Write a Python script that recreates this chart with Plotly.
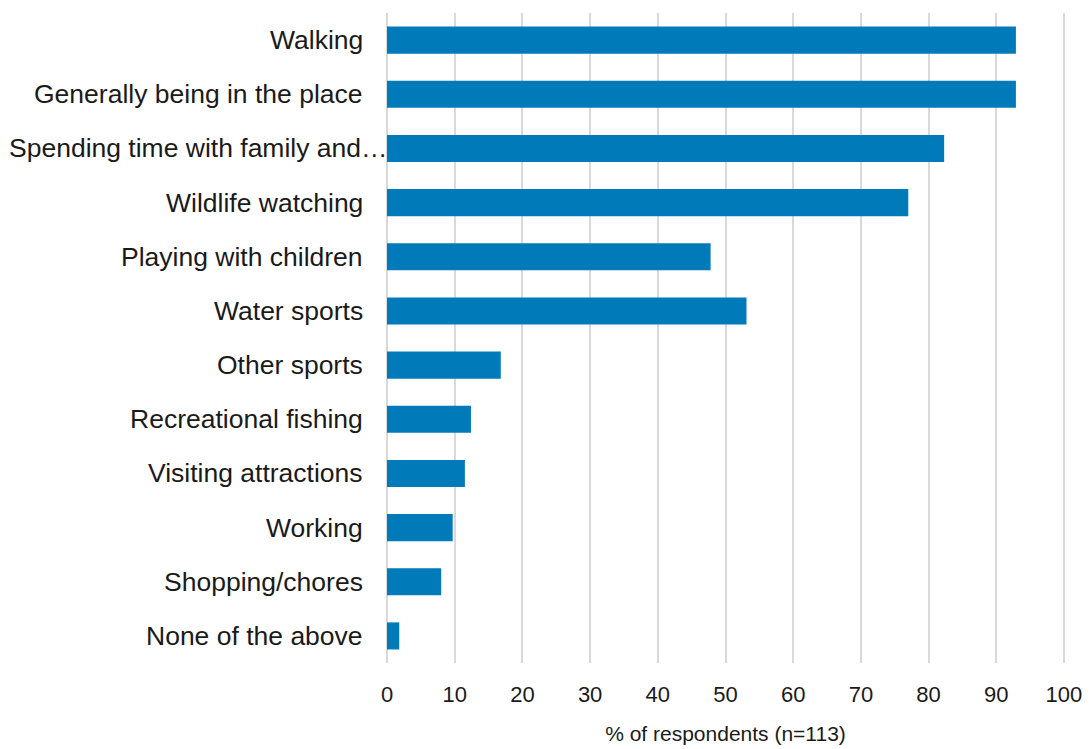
import plotly.graph_objects as go

categories = ["Walking", "Generally being in the place", "Spending time with family and…",
              "Wildlife watching", "Playing with children", "Water sports", "Other sports",
              "Recreational fishing", "Visiting attractions", "Working", "Shopping/chores",
              "None of the above"]
values = [92.9, 92.9, 82.3, 77.0, 47.8, 53.1, 16.8, 12.4, 11.5, 9.7, 8.0, 1.8]
x_ticks = [0, 10, 20, 30, 40, 50, 60, 70, 80, 90, 100]

BAR = "#007ab8"
GRID = "#d9d9d9"
TXT = "#1a1a1a"
FONT = "Liberation Sans, Arial, sans-serif"

fig = go.Figure(go.Bar(
    x=values, y=categories, orientation="h",
    marker=dict(color=BAR, line=dict(width=0)),
    hoverinfo="x+y",
))

annotations = []
for c in categories:
    truncated = c.endswith("…")
    annotations.append(dict(
        x=0, y=c, xref="x", yref="y", text=c, showarrow=False,
        xanchor="right", yanchor="middle",
        xshift=3 if truncated else -22,
        font=dict(family=FONT, size=26.5, color=TXT),
    ))

fig.update_layout(
    width=1091, height=749,
    margin=dict(l=385, r=25, t=13, b=86),
    paper_bgcolor="white", plot_bgcolor="white",
    bargap=0.5,
    showlegend=False,
    annotations=annotations,
    xaxis=dict(
        range=[-0.3, 100.3], tickvals=x_ticks, ticktext=[str(t) for t in x_ticks],
        showgrid=True, gridcolor=GRID, gridwidth=2,
        zeroline=False, showline=False, ticks="",
        ticklabelstandoff=16,
        automargin=False,
        tickfont=dict(family=FONT, size=22, color=TXT),
        title=dict(text="% of respondents (n=113)",
                   font=dict(family=FONT, size=21, color=TXT),
                   standoff=20),
        fixedrange=True,
    ),
    yaxis=dict(
        categoryorder="array", categoryarray=categories[::-1],
        showticklabels=False, showgrid=False, zeroline=False, showline=False, ticks="",
        automargin=False,
        fixedrange=True,
    ),
)

fig.write_html("out.html")
